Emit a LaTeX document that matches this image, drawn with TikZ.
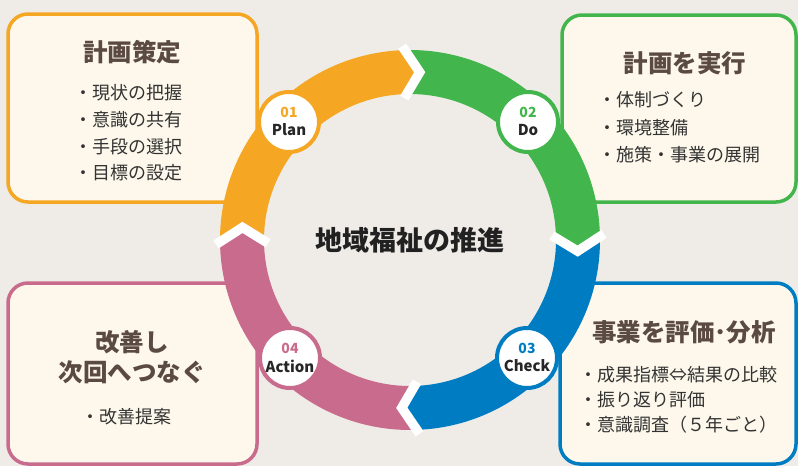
\documentclass[tikz,border=0pt]{standalone}
\usepackage{fontspec}
\newfontfamily\jp{Noto Sans CJK JP}
\definecolor{bgc}{HTML}{EFECE8}
\definecolor{cream}{HTML}{FDF8EB}
\definecolor{corange}{HTML}{F5A623}
\definecolor{cgreen}{HTML}{42B64C}
\definecolor{cblue}{HTML}{007CC2}
\definecolor{cpink}{HTML}{C96B8C}
\definecolor{tbrown}{HTML}{5A4A42}
\definecolor{tdark}{HTML}{333333}
\newcommand\dd{2.8}
\newcommand\ringseg[3]{%
  \fill[#1] (#2+\dd:190) arc[start angle=#2+\dd, end angle=#3+\dd, radius=190]
    -- (#3-\dd:168) -- (#3+\dd:146)
    arc[start angle=#3+\dd, end angle=#2+\dd, radius=146]
    -- (#2-\dd:168) -- cycle;}
\begin{document}
\begin{tikzpicture}[x=1pt,y=-1pt,
  panel/.style={rounded corners=20pt, line width=3.5pt, fill=cream},
  jtitle/.style={font=\jp\bfseries\fontsize{24.5}{28}\selectfont, text=tbrown, inner sep=0pt, text height=21.5pt, text depth=3pt},
  jitem/.style={font=\jp\fontsize{18}{22}\selectfont, text=tdark, inner sep=0pt, text height=15.8pt, text depth=2.2pt, anchor=west},
  badge/.style={circle, fill=white, line width=4pt, minimum size=60pt, inner sep=0pt},
  bnum/.style={font=\jp\bfseries\fontsize{14}{16}\selectfont, inner sep=0pt},
  bword/.style={font=\jp\bfseries\fontsize{15}{17}\selectfont, text=black!85, inner sep=0pt}]
\fill[bgc] (0,0) rectangle (798,466);
\useasboundingbox (0,0) rectangle (798,466);

% panels
\draw[panel, draw=corange] (8,14) rectangle (257,202);
\draw[panel, draw=cgreen] (562,15) rectangle (796,202);
\draw[panel, draw=cpink] (8,283) rectangle (257,464);
\draw[panel, draw=cblue] (560,283) rectangle (796,464);

% Plan panel text
\node[jtitle] (t1) at (132,52) {計画策定};
\node[jitem] (p1) at (74,93) {・現状の把握};
\node[jitem] (p2) at (74,120) {・意識の共有};
\node[jitem] (p3) at (74,147) {・手段の選択};
\node[jitem] (p4) at (74,173) {・目標の設定};

% Do panel text
\node[jtitle] (t2) at (685,63) {計画を実行};
\node[jitem] (d1) at (598,100) {・体制づくり};
\node[jitem] (d2) at (598,128) {・環境整備};
\node[jitem] (d3) at (598,155) {・施策・事業の展開};

% Action panel text
\node[jtitle] (t4a) at (132,342) {改善し};
\node[jtitle] (t4b) at (132,372) {次回へつなぐ};
\node[jitem] (a1) at (81,417) {・改善提案};

% Check panel text
\node[jtitle] (t3) at (684,332) {事業を評価･分析};
\node[jitem] (c1) at (579,375) {・成果指標⇔結果の比較};
\node[jitem] (c2) at (579,400) {・振り返り評価};
\node[jitem] (c3) at (579,425) {・意識調査（５年ごと）};

% ring
\begin{scope}[shift={(410,240)}, y=1pt]
  \ringseg{corange}{178.5}{89.5}
  \ringseg{cgreen}{89.5}{-1}
  \ringseg{cblue}{-1}{-90}
  \ringseg{cpink}{-90}{-181.5}
  \foreach \b in {89.5,-1,-90,178.5}
    \draw[white, line width=9.5pt, miter limit=10] (\b+\dd:194) -- (\b-\dd:168) -- (\b+\dd:142);
\end{scope}

% badges
\node[badge, draw=corange] (b1) at (289,122) {};
\node[badge, draw=cgreen] (b2) at (528,122) {};
\node[badge, draw=cblue] (b3) at (527,358) {};
\node[badge, draw=cpink] (b4) at (290,358) {};
\node[bnum, text=corange] (n1) at (289,112) {01};
\node[bword] (w1) at (289,130) {Plan};
\node[bnum, text=cgreen] (n2) at (528,112) {02};
\node[bword] (w2) at (528,130) {Do};
\node[bnum, text=cblue] (n3) at (527,348) {03};
\node[bword] (w3) at (527,366) {Check};
\node[bnum, text=cpink] (n4) at (290,348) {04};
\node[bword] (w4) at (290,366) {Action};

% centre
\node[font=\jp\bfseries\fontsize{27}{30}\selectfont, text=black!87, inner sep=0pt, text height=23.8pt, text depth=3.2pt] (ctr) at (410,240) {地域福祉の推進};
\end{tikzpicture}
\end{document}
